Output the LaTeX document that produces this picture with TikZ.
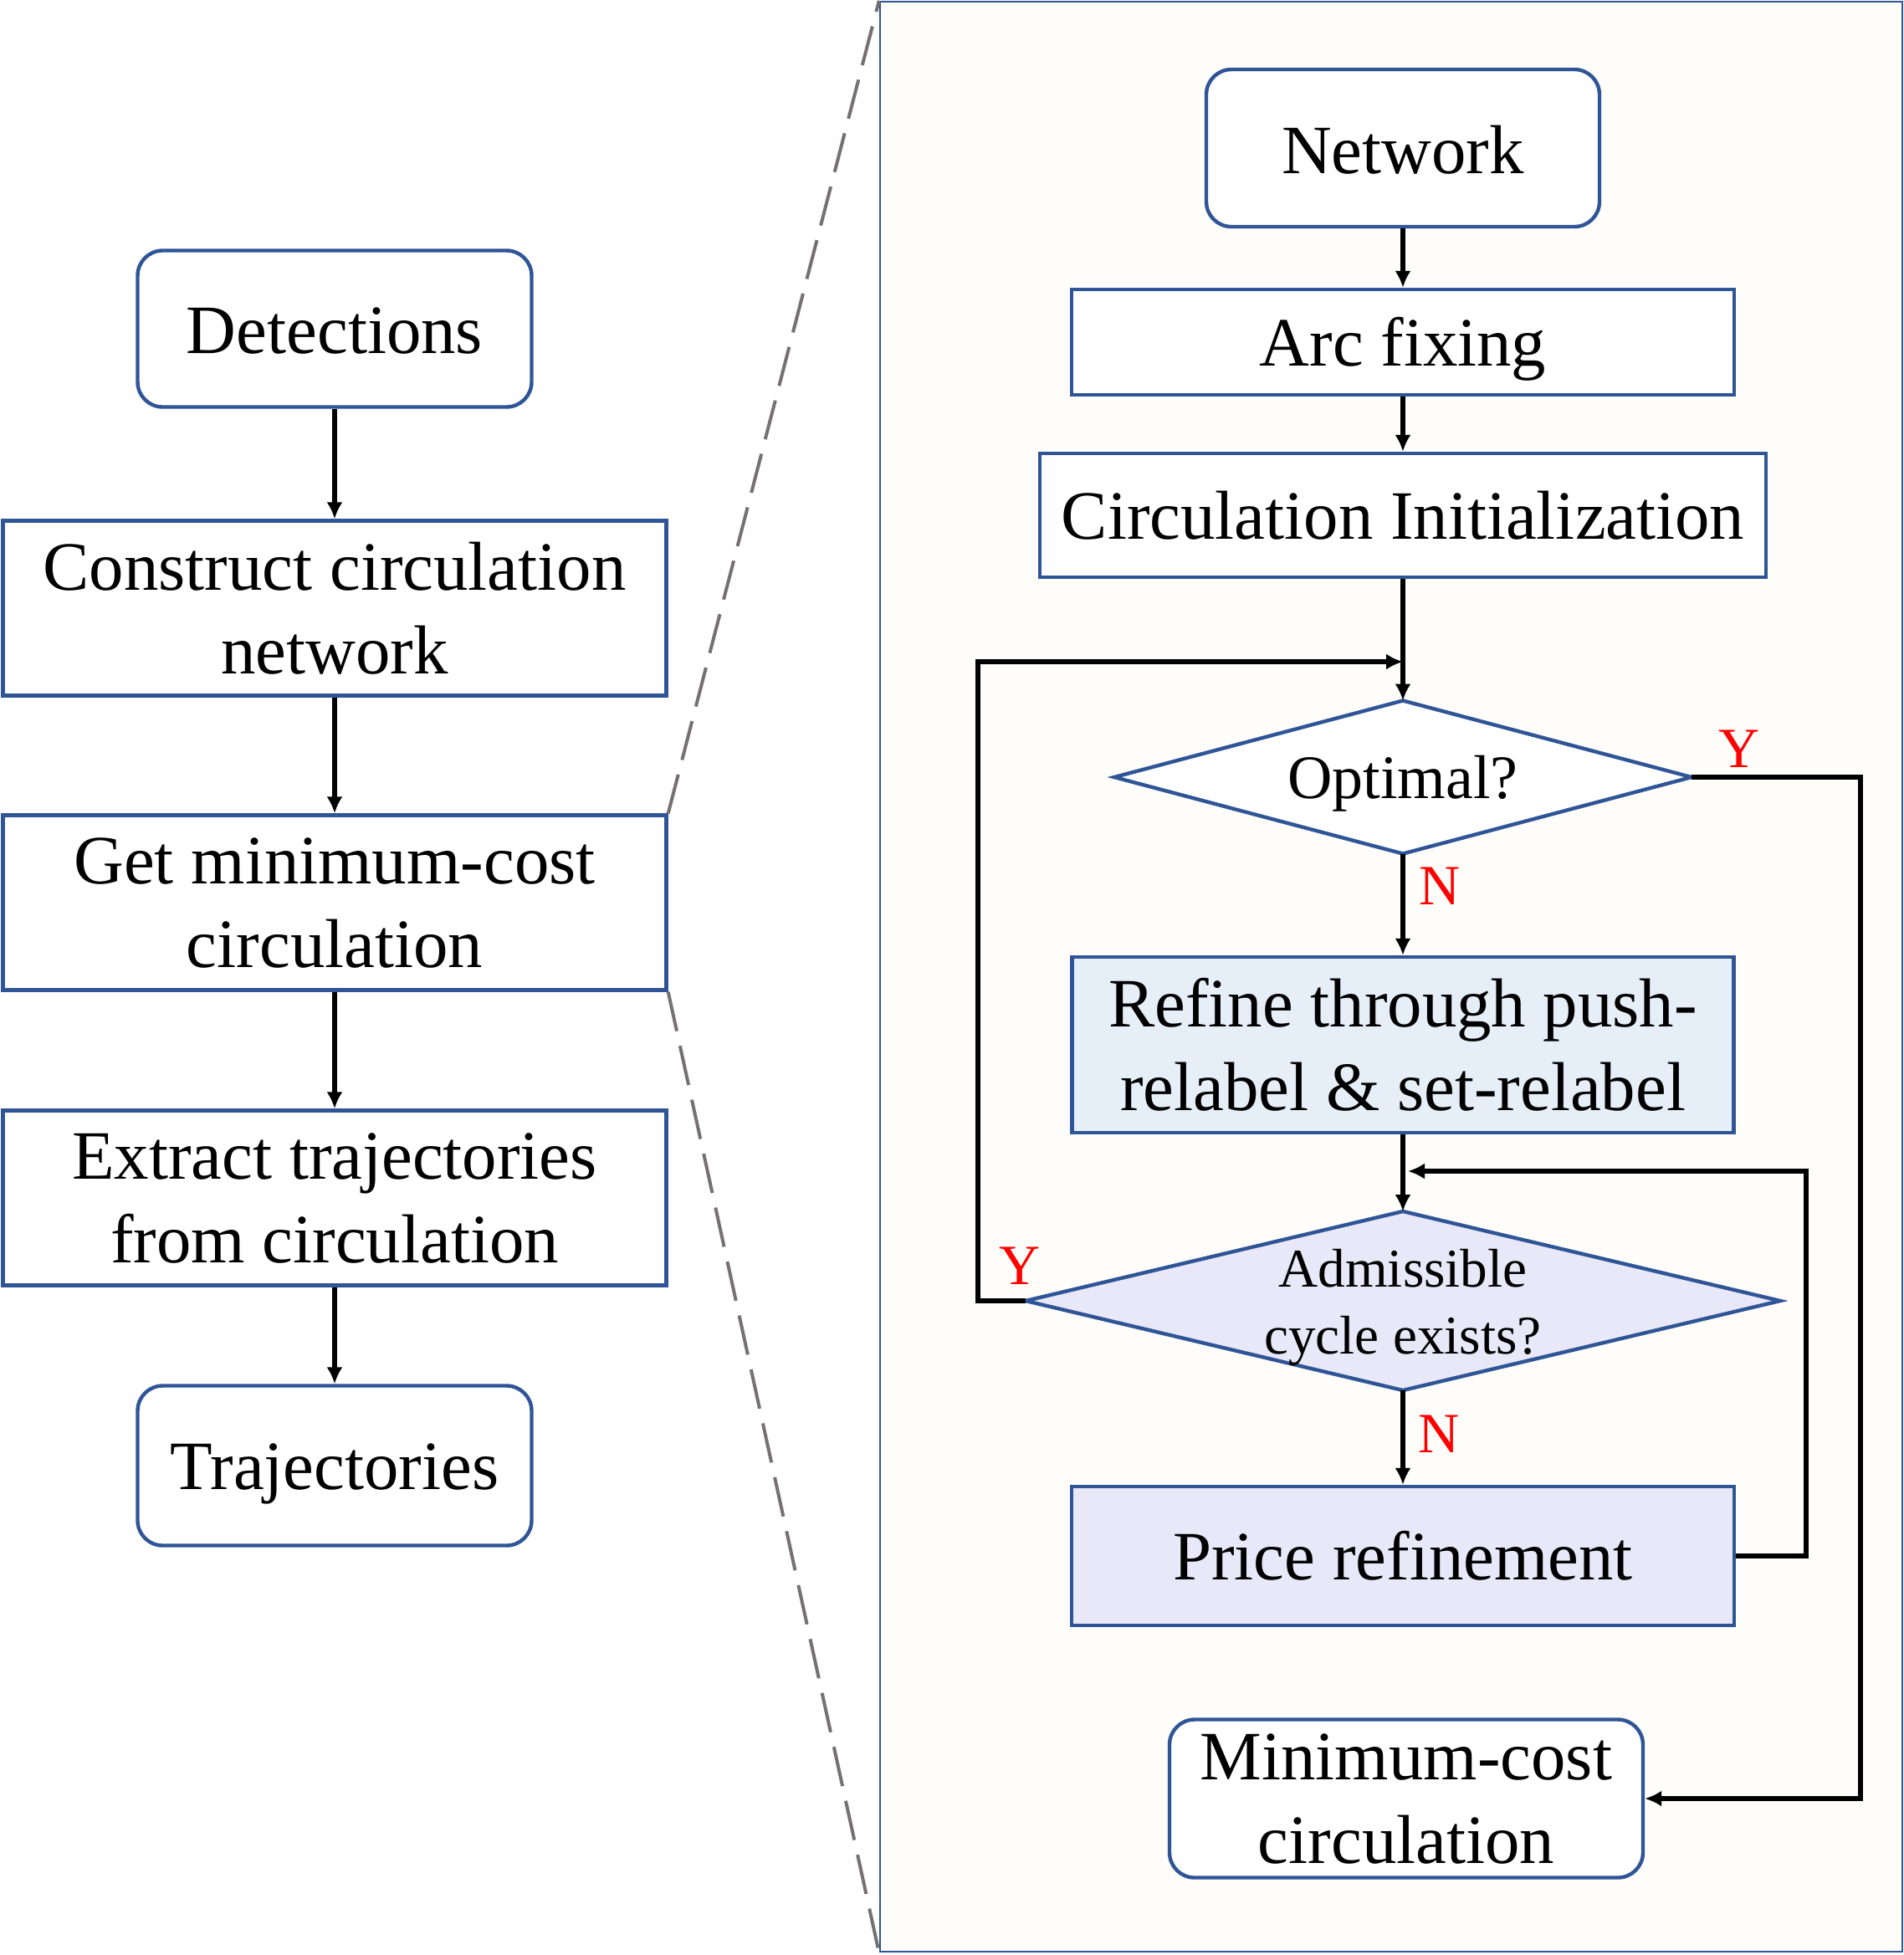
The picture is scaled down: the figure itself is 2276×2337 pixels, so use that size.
\documentclass[tikz,border=0pt]{standalone}
\usepackage{fontspec}
\setmainfont{Liberation Serif}
\usetikzlibrary{arrows.meta,calc}
\definecolor{bblue}{RGB}{47,85,151}
\definecolor{refinefill}{RGB}{230,238,248}
\definecolor{lavfill}{RGB}{232,232,248}
\definecolor{dashgray}{RGB}{118,113,113}
\definecolor{panelfill}{RGB}{254,253,249}
\newcommand{\mainsz}{\fontsize{20.7pt}{25pt}\selectfont}
\newcommand{\optsz}{\fontsize{18.5pt}{22pt}\selectfont}
\newcommand{\admsz}{\fontsize{16.3pt}{20pt}\selectfont}
\newcommand{\ynsz}{\fontsize{17pt}{20pt}\selectfont}
\newcommand{\lowr}[2]{\raisebox{-#1}[\height][\depth]{#2}}
\pgfdeclarelayer{background}
\pgfsetlayers{background,main}
\begin{document}
\begin{tikzpicture}[x=0.25pt,y=-0.25pt,
  box/.style={draw=bblue,line width=1.1pt,fill=white,align=center,inner sep=0pt,font=\mainsz},
  rbox/.style={box,rounded corners=7.5pt},
  dmd/.style={inner sep=0pt,outer sep=0pt,align=center},
  dmdline/.style={draw=bblue,line width=1.1pt},
  arr/.style={line width=1.45pt,-{Latex[length=5pt,width=4.8pt]}},
  yn/.style={text=red,font=\ynsz,inner sep=0pt},
  dashline/.style={draw=dashgray,line width=1pt,dash pattern=on 12pt off 4.5pt}]
\useasboundingbox (0,0) rectangle (2276,2337);

% left column
\node[rbox,minimum width=117.75pt,minimum height=46.75pt] (det) at (400,393) {\lowr{0.5pt}{Detections}};
\node[box,minimum width=198.25pt,minimum height=52.25pt] (cons) at (400,727) {Construct circulation\\network};
\node[box,minimum width=198.25pt,minimum height=52.25pt] (getmin) at (400,1079) {Get minimum-cost\\circulation};
\node[box,minimum width=198.25pt,minimum height=52.25pt] (extract) at (400,1432) {Extract trajectories\\from circulation};
\node[rbox,minimum width=117.75pt,minimum height=47.75pt] (traj) at (400,1752) {\lowr{2.5pt}{Trajectories}};

\draw[arr] (det) -- (cons);
\draw[arr] (cons) -- (getmin);
\draw[arr] (getmin) -- (extract);
\draw[arr] (extract) -- (traj);

% right panel
\node[rbox,minimum width=117.5pt,minimum height=47pt] (net) at (1677,177) {\lowr{0.5pt}{Network}};
\node[box,minimum width=198pt,minimum height=31.5pt] (arc) at (1677,409) {\lowr{2pt}{Arc fixing}};
\node[box,minimum width=217pt,minimum height=37pt] (init) at (1677,616) {Circulation Initialization};
\node[dmd,font=\optsz,minimum width=172.5pt,minimum height=45.75pt] (opt) at (1677,929) {\lowr{2pt}{Optimal?}};
\node[box,fill=refinefill,minimum width=197.75pt,minimum height=52.5pt] (ref) at (1677,1249) {Refine through push-\\relabel \& set-relabel};
\node[dmd,font=\admsz,minimum width=225.5pt,minimum height=53.5pt] (adm) at (1677,1555) {\lowr{2pt}{Admissible}\\\lowr{2pt}{cycle exists?}};
\node[box,fill=lavfill,minimum width=198pt,minimum height=41.5pt] (price) at (1677,1860) {Price refinement};
\node[rbox,minimum width=141.5pt,minimum height=47.25pt] (minc) at (1681,2150) {Minimum-cost\\circulation};

\node[yn] (yopt) at (2079,895) {Y};
\node[yn] (nopt) at (1721,1059) {N};
\node[yn] (yadm) at (1219,1513) {Y};
\node[yn] (nadm) at (1720,1714) {N};

\coordinate (j1) at (1677,791);
\coordinate (j2) at (1683,1400);

\draw[arr] (net) -- (arc);
\draw[arr] (arc) -- (init);
\draw[arr] (init) -- (opt.north);
\draw[arr] (opt.south) -- (ref);
\draw[arr] (ref) -- (adm.north);
\draw[arr] (adm.south) -- (price);
\draw[arr] (adm.west) -- ++(-57,0) |- (j1);
\draw[arr] (opt.east) -- ++(202,0) |- (minc.east);
\draw[arr] (price.east) -- ++(84,0) |- (j2);

\begin{pgfonlayer}{background}
  \fill[white] (0,0) rectangle (2276,2337);
  \node[draw=bblue,line width=0.6pt,fill=panelfill,minimum width=305.5pt,minimum height=582.75pt,inner sep=0pt] (panel) at (1663,1167.5) {};
  \filldraw[dmdline,fill=white] (opt.north) -- (opt.east) -- (opt.south) -- (opt.west) -- cycle;
  \filldraw[dmdline,fill=lavfill] (adm.north) -- (adm.east) -- (adm.south) -- (adm.west) -- cycle;
\end{pgfonlayer}

\draw[dashline] (getmin.north east) -- (panel.north west);
\draw[dashline] (getmin.south east) -- (panel.south west);
\end{tikzpicture}
\end{document}
